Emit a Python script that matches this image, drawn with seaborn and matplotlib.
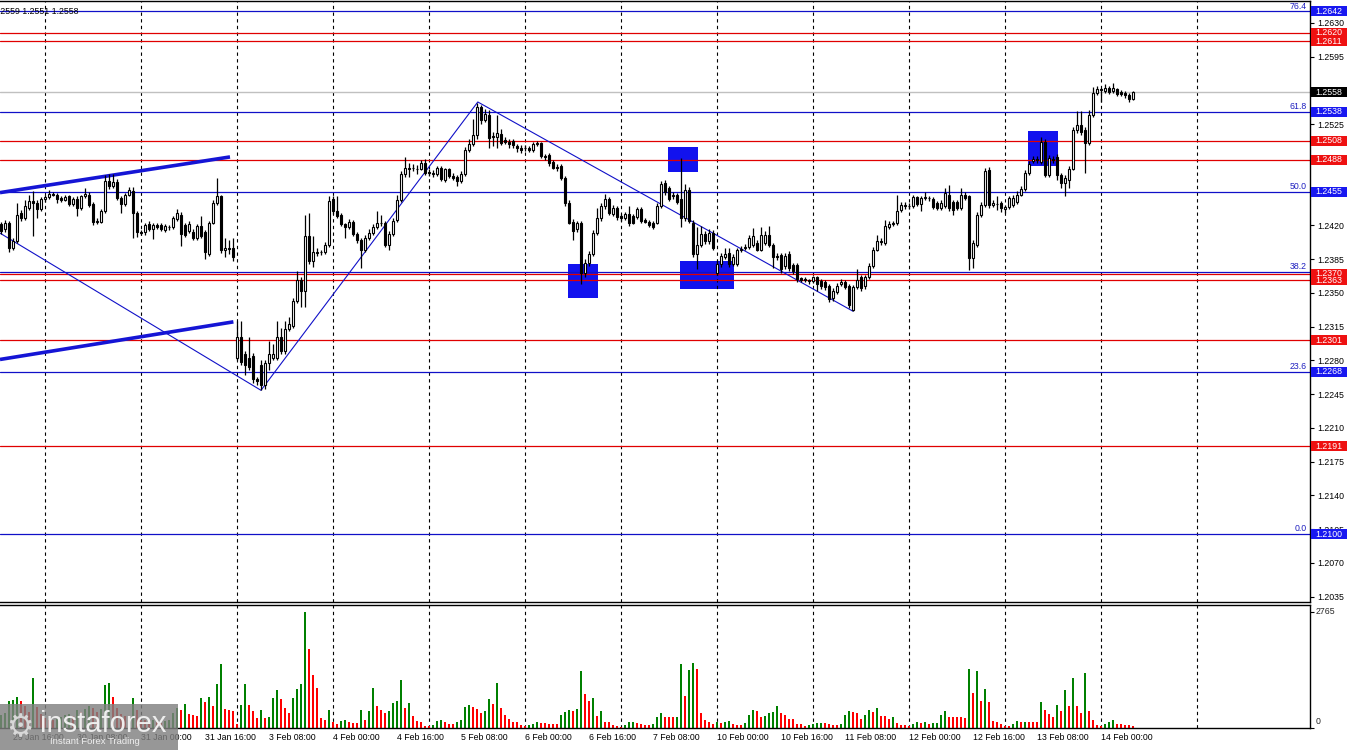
import numpy as np
import pandas as pd
import matplotlib
matplotlib.use("Agg")
import matplotlib.pyplot as plt
import matplotlib.transforms as mtransforms
from matplotlib.patches import Rectangle
import seaborn as sns

# hourly candles, one list per trading day: (open, high, low, close)
day_29jan = [
    (1.2421, 1.2424, 1.2411, 1.2414), (1.2416, 1.2426, 1.2413, 1.2423), (1.2423, 1.2425, 1.2392, 1.2397),
    (1.2397, 1.2407, 1.2395, 1.2404), (1.2404, 1.2443, 1.2402, 1.2431), (1.2433, 1.2436, 1.2425, 1.2428),
    (1.2428, 1.2446, 1.2426, 1.2440), (1.2438, 1.2452, 1.2436, 1.2445), (1.2445, 1.2456, 1.2409, 1.2443),
    (1.2443, 1.2446, 1.2428, 1.2437), (1.2437, 1.2449, 1.2435, 1.2447)]
day_30jan = [
    (1.2447, 1.2452, 1.2444, 1.2449), (1.2449, 1.2457, 1.2447, 1.2453), (1.2453, 1.2455, 1.2450, 1.2452),
    (1.2452, 1.2454, 1.2443, 1.2447), (1.2448, 1.2450, 1.2444, 1.2446), (1.2446, 1.2452, 1.2445, 1.2449),
    (1.2450, 1.2452, 1.2440, 1.2442), (1.2442, 1.2449, 1.2440, 1.2447), (1.2447, 1.2450, 1.2430, 1.2438),
    (1.2438, 1.2452, 1.2436, 1.2450), (1.2450, 1.2459, 1.2448, 1.2453), (1.2452, 1.2455, 1.2439, 1.2441),
    (1.2442, 1.2444, 1.2420, 1.2424), (1.2424, 1.2428, 1.2421, 1.2425), (1.2424, 1.2437, 1.2422, 1.2435),
    (1.2435, 1.2472, 1.2433, 1.2466), (1.2466, 1.2473, 1.2458, 1.2461), (1.2461, 1.2473, 1.2459, 1.2465),
    (1.2465, 1.2468, 1.2446, 1.2448), (1.2448, 1.2451, 1.2433, 1.2442), (1.2442, 1.2454, 1.2440, 1.2452),
    (1.2452, 1.2460, 1.2450, 1.2457), (1.2456, 1.2460, 1.2407, 1.2433), (1.2433, 1.2435, 1.2408, 1.2413)]
day_31jan = [
    (1.2413, 1.2415, 1.2410, 1.2412), (1.2413, 1.2423, 1.2410, 1.2420), (1.2421, 1.2425, 1.2414, 1.2416),
    (1.2416, 1.2423, 1.2406, 1.2420), (1.2420, 1.2423, 1.2416, 1.2418), (1.2420, 1.2422, 1.2414, 1.2416),
    (1.2415, 1.2421, 1.2413, 1.2419), (1.2418, 1.2420, 1.2415, 1.2418), (1.2418, 1.2430, 1.2416, 1.2428),
    (1.2427, 1.2437, 1.2425, 1.2433), (1.2431, 1.2434, 1.2399, 1.2411), (1.2420, 1.2422, 1.2408, 1.2410),
    (1.2414, 1.2425, 1.2412, 1.2421), (1.2413, 1.2416, 1.2405, 1.2407), (1.2407, 1.2421, 1.2405, 1.2419),
    (1.2419, 1.2430, 1.2407, 1.2409), (1.2413, 1.2415, 1.2385, 1.2392), (1.2390, 1.2425, 1.2388, 1.2423),
    (1.2423, 1.2446, 1.2421, 1.2443), (1.2443, 1.2469, 1.2441, 1.2450), (1.2450, 1.2452, 1.2391, 1.2394),
    (1.2394, 1.2407, 1.2387, 1.2397), (1.2397, 1.2405, 1.2390, 1.2396), (1.2397, 1.2407, 1.2383, 1.2387)]
day_3feb = [
    (1.2283, 1.2321, 1.2280, 1.2304), (1.2304, 1.2321, 1.2275, 1.2278), (1.2287, 1.2290, 1.2265, 1.2275),
    (1.2283, 1.2304, 1.2270, 1.2273), (1.2285, 1.2288, 1.2257, 1.2261), (1.2261, 1.2263, 1.2254, 1.2259),
    (1.2275, 1.2280, 1.2249, 1.2254), (1.2254, 1.2280, 1.2250, 1.2277), (1.2277, 1.2300, 1.2270, 1.2287),
    (1.2283, 1.2297, 1.2280, 1.2287), (1.2283, 1.2321, 1.2280, 1.2304), (1.2304, 1.2314, 1.2287, 1.2290),
    (1.2290, 1.2321, 1.2287, 1.2313), (1.2313, 1.2325, 1.2310, 1.2318), (1.2316, 1.2345, 1.2314, 1.2342),
    (1.2342, 1.2373, 1.2340, 1.2363), (1.2363, 1.2366, 1.2335, 1.2352), (1.2352, 1.2431, 1.2335, 1.2409),
    (1.2409, 1.2433, 1.2380, 1.2383), (1.2383, 1.2409, 1.2377, 1.2392), (1.2392, 1.2397, 1.2388, 1.2391),
    (1.2392, 1.2395, 1.2389, 1.2392), (1.2392, 1.2403, 1.2390, 1.2400), (1.2400, 1.2450, 1.2398, 1.2445)]
day_4feb = [
    (1.2447, 1.2450, 1.2432, 1.2435), (1.2435, 1.2450, 1.2428, 1.2430), (1.2431, 1.2433, 1.2419, 1.2421),
    (1.2421, 1.2423, 1.2407, 1.2418), (1.2418, 1.2427, 1.2416, 1.2424), (1.2424, 1.2426, 1.2409, 1.2411),
    (1.2411, 1.2413, 1.2402, 1.2405), (1.2405, 1.2407, 1.2376, 1.2395), (1.2395, 1.2410, 1.2392, 1.2407),
    (1.2407, 1.2416, 1.2405, 1.2412), (1.2412, 1.2421, 1.2410, 1.2418), (1.2418, 1.2435, 1.2416, 1.2423),
    (1.2423, 1.2431, 1.2419, 1.2423), (1.2423, 1.2425, 1.2398, 1.2400), (1.2400, 1.2414, 1.2395, 1.2411),
    (1.2411, 1.2428, 1.2409, 1.2425), (1.2426, 1.2452, 1.2424, 1.2446), (1.2446, 1.2476, 1.2444, 1.2473),
    (1.2473, 1.2491, 1.2470, 1.2480), (1.2480, 1.2485, 1.2470, 1.2479), (1.2480, 1.2484, 1.2476, 1.2480),
    (1.2479, 1.2483, 1.2473, 1.2478), (1.2479, 1.2488, 1.2477, 1.2485), (1.2485, 1.2489, 1.2472, 1.2474)]
day_5feb = [
    (1.2475, 1.2478, 1.2471, 1.2474), (1.2474, 1.2477, 1.2470, 1.2473), (1.2473, 1.2482, 1.2471, 1.2480),
    (1.2480, 1.2482, 1.2466, 1.2468), (1.2467, 1.2480, 1.2465, 1.2478), (1.2478, 1.2480, 1.2469, 1.2471),
    (1.2471, 1.2474, 1.2467, 1.2469), (1.2470, 1.2472, 1.2461, 1.2466), (1.2466, 1.2476, 1.2464, 1.2473),
    (1.2473, 1.2501, 1.2471, 1.2498), (1.2498, 1.2510, 1.2496, 1.2504), (1.2504, 1.2530, 1.2502, 1.2514),
    (1.2514, 1.2547, 1.2510, 1.2543), (1.2543, 1.2545, 1.2525, 1.2529), (1.2529, 1.2541, 1.2527, 1.2536),
    (1.2535, 1.2540, 1.2500, 1.2511), (1.2513, 1.2517, 1.2502, 1.2512), (1.2512, 1.2535, 1.2500, 1.2516),
    (1.2515, 1.2520, 1.2503, 1.2505), (1.2509, 1.2512, 1.2504, 1.2507), (1.2507, 1.2510, 1.2500, 1.2504),
    (1.2508, 1.2510, 1.2500, 1.2503), (1.2502, 1.2504, 1.2496, 1.2500), (1.2500, 1.2503, 1.2495, 1.2498)]
day_6feb = [
    (1.2500, 1.2503, 1.2497, 1.2500), (1.2500, 1.2502, 1.2496, 1.2498), (1.2498, 1.2507, 1.2496, 1.2504),
    (1.2504, 1.2508, 1.2502, 1.2505), (1.2505, 1.2507, 1.2490, 1.2492), (1.2492, 1.2494, 1.2488, 1.2491),
    (1.2493, 1.2495, 1.2482, 1.2485), (1.2486, 1.2488, 1.2478, 1.2480), (1.2481, 1.2484, 1.2476, 1.2480),
    (1.2482, 1.2484, 1.2467, 1.2469), (1.2469, 1.2471, 1.2440, 1.2443), (1.2443, 1.2446, 1.2421, 1.2423),
    (1.2424, 1.2427, 1.2405, 1.2414), (1.2416, 1.2425, 1.2413, 1.2422), (1.2422, 1.2425, 1.2359, 1.2371),
    (1.2371, 1.2385, 1.2366, 1.2381), (1.2381, 1.2393, 1.2378, 1.2390), (1.2390, 1.2415, 1.2388, 1.2412),
    (1.2412, 1.2438, 1.2410, 1.2428), (1.2428, 1.2443, 1.2425, 1.2440), (1.2440, 1.2453, 1.2437, 1.2447),
    (1.2447, 1.2449, 1.2431, 1.2433), (1.2432, 1.2441, 1.2430, 1.2438), (1.2438, 1.2440, 1.2426, 1.2429)]
day_7feb = [
    (1.2430, 1.2432, 1.2425, 1.2428), (1.2428, 1.2434, 1.2426, 1.2432), (1.2432, 1.2440, 1.2419, 1.2422),
    (1.2430, 1.2432, 1.2421, 1.2423), (1.2429, 1.2439, 1.2427, 1.2437), (1.2437, 1.2439, 1.2423, 1.2425),
    (1.2426, 1.2428, 1.2422, 1.2424), (1.2424, 1.2426, 1.2418, 1.2420), (1.2423, 1.2425, 1.2416, 1.2418),
    (1.2423, 1.2443, 1.2421, 1.2440), (1.2440, 1.2466, 1.2438, 1.2463), (1.2464, 1.2467, 1.2452, 1.2455),
    (1.2459, 1.2461, 1.2445, 1.2447), (1.2450, 1.2455, 1.2447, 1.2452), (1.2452, 1.2454, 1.2442, 1.2444),
    (1.2447, 1.2490, 1.2418, 1.2428), (1.2428, 1.2463, 1.2425, 1.2457), (1.2457, 1.2460, 1.2422, 1.2425),
    (1.2423, 1.2426, 1.2387, 1.2390), (1.2390, 1.2418, 1.2375, 1.2400), (1.2400, 1.2419, 1.2398, 1.2411),
    (1.2411, 1.2414, 1.2401, 1.2404), (1.2404, 1.2416, 1.2401, 1.2412), (1.2412, 1.2415, 1.2395, 1.2397)]
day_10feb = [
    (1.2371, 1.2384, 1.2369, 1.2380), (1.2380, 1.2391, 1.2377, 1.2388), (1.2387, 1.2397, 1.2385, 1.2390),
    (1.2391, 1.2397, 1.2377, 1.2380), (1.2380, 1.2390, 1.2378, 1.2387), (1.2380, 1.2397, 1.2378, 1.2394),
    (1.2394, 1.2399, 1.2392, 1.2396), (1.2397, 1.2401, 1.2395, 1.2398), (1.2398, 1.2410, 1.2396, 1.2407),
    (1.2400, 1.2417, 1.2398, 1.2409), (1.2402, 1.2405, 1.2393, 1.2395), (1.2395, 1.2418, 1.2393, 1.2410),
    (1.2402, 1.2414, 1.2400, 1.2410), (1.2410, 1.2419, 1.2398, 1.2400), (1.2400, 1.2402, 1.2376, 1.2387),
    (1.2388, 1.2391, 1.2384, 1.2387), (1.2389, 1.2391, 1.2371, 1.2375), (1.2378, 1.2391, 1.2375, 1.2388),
    (1.2390, 1.2393, 1.2373, 1.2376), (1.2379, 1.2381, 1.2370, 1.2373), (1.2379, 1.2381, 1.2361, 1.2364),
    (1.2365, 1.2367, 1.2361, 1.2363), (1.2364, 1.2367, 1.2361, 1.2363), (1.2363, 1.2364, 1.2359, 1.2362)]
day_11feb = [
    (1.2362, 1.2368, 1.2360, 1.2366), (1.2366, 1.2368, 1.2352, 1.2359), (1.2362, 1.2364, 1.2354, 1.2357),
    (1.2361, 1.2363, 1.2353, 1.2356), (1.2357, 1.2359, 1.2341, 1.2344), (1.2345, 1.2355, 1.2342, 1.2352),
    (1.2351, 1.2360, 1.2349, 1.2357), (1.2359, 1.2364, 1.2357, 1.2361), (1.2361, 1.2363, 1.2354, 1.2356),
    (1.2357, 1.2359, 1.2334, 1.2337), (1.2332, 1.2358, 1.2331, 1.2356), (1.2356, 1.2375, 1.2354, 1.2363),
    (1.2366, 1.2369, 1.2352, 1.2355), (1.2357, 1.2369, 1.2354, 1.2366), (1.2366, 1.2381, 1.2364, 1.2378),
    (1.2378, 1.2398, 1.2376, 1.2395), (1.2395, 1.2410, 1.2393, 1.2404), (1.2404, 1.2407, 1.2400, 1.2403),
    (1.2402, 1.2426, 1.2400, 1.2419), (1.2418, 1.2425, 1.2416, 1.2421), (1.2421, 1.2425, 1.2419, 1.2422),
    (1.2422, 1.2452, 1.2420, 1.2435), (1.2436, 1.2444, 1.2434, 1.2441), (1.2440, 1.2444, 1.2437, 1.2441)]
day_12feb = [
    (1.2440, 1.2443, 1.2437, 1.2440), (1.2440, 1.2452, 1.2438, 1.2449), (1.2449, 1.2451, 1.2440, 1.2442),
    (1.2442, 1.2450, 1.2435, 1.2448), (1.2448, 1.2455, 1.2446, 1.2449), (1.2448, 1.2450, 1.2445, 1.2448),
    (1.2447, 1.2449, 1.2437, 1.2439), (1.2443, 1.2445, 1.2436, 1.2438), (1.2438, 1.2446, 1.2436, 1.2443),
    (1.2440, 1.2459, 1.2438, 1.2454), (1.2452, 1.2462, 1.2435, 1.2438), (1.2444, 1.2446, 1.2431, 1.2436),
    (1.2444, 1.2446, 1.2436, 1.2438), (1.2438, 1.2459, 1.2436, 1.2452), (1.2452, 1.2455, 1.2446, 1.2448),
    (1.2450, 1.2452, 1.2374, 1.2386), (1.2386, 1.2405, 1.2376, 1.2402), (1.2400, 1.2434, 1.2398, 1.2431),
    (1.2431, 1.2444, 1.2429, 1.2441), (1.2441, 1.2480, 1.2439, 1.2476), (1.2477, 1.2481, 1.2438, 1.2441),
    (1.2441, 1.2446, 1.2439, 1.2443), (1.2442, 1.2450, 1.2436, 1.2442), (1.2443, 1.2445, 1.2434, 1.2438)]
day_13feb = [
    (1.2437, 1.2441, 1.2433, 1.2439), (1.2439, 1.2451, 1.2437, 1.2448), (1.2441, 1.2452, 1.2439, 1.2448),
    (1.2444, 1.2456, 1.2442, 1.2452), (1.2452, 1.2461, 1.2450, 1.2458), (1.2458, 1.2477, 1.2456, 1.2474),
    (1.2474, 1.2487, 1.2472, 1.2484), (1.2487, 1.2492, 1.2485, 1.2489), (1.2489, 1.2492, 1.2485, 1.2488),
    (1.2486, 1.2512, 1.2484, 1.2507), (1.2507, 1.2510, 1.2470, 1.2472), (1.2472, 1.2493, 1.2470, 1.2490),
    (1.2489, 1.2492, 1.2485, 1.2488), (1.2491, 1.2494, 1.2467, 1.2472), (1.2472, 1.2474, 1.2459, 1.2464),
    (1.2464, 1.2472, 1.2450, 1.2469), (1.2467, 1.2482, 1.2459, 1.2479), (1.2479, 1.2522, 1.2477, 1.2519),
    (1.2519, 1.2539, 1.2516, 1.2524), (1.2524, 1.2539, 1.2514, 1.2517), (1.2519, 1.2522, 1.2474, 1.2505),
    (1.2505, 1.2540, 1.2503, 1.2534), (1.2534, 1.2564, 1.2532, 1.2557), (1.2557, 1.2565, 1.2555, 1.2561)]
day_14feb = [
    (1.2561, 1.2563, 1.2548, 1.2560), (1.2559, 1.2567, 1.2557, 1.2562), (1.2562, 1.2565, 1.2556, 1.2558),
    (1.2559, 1.2568, 1.2557, 1.2562), (1.2561, 1.2563, 1.2554, 1.2556), (1.2558, 1.2560, 1.2554, 1.2556),
    (1.2557, 1.2559, 1.2552, 1.2555), (1.2555, 1.2557, 1.2548, 1.2551), (1.2551, 1.2559, 1.2550, 1.2558)]

# tick volumes per hour
vol_29jan = [300, 350, 652, 667, 730, 652, 526, 380, 1201, 510, 330]
vol_30jan = [250, 200, 180, 220, 260, 300, 340, 280, 420, 380, 450, 526,
             470, 380, 450, 1020, 1083, 730, 471, 330, 280, 240, 706, 420]
vol_31jan = [200, 180, 160, 190, 150, 130, 170, 200, 350, 471, 432, 573,
             338, 314, 275, 714, 628, 738, 526, 1044, 1515, 455, 432, 408]
vol_3feb = [102, 550, 1044, 550, 408, 228, 432, 228, 251, 714, 903, 683,
            471, 369, 714, 918, 1044, 2765, 1884, 1256, 942, 228, 181, 432]
vol_4feb = [133, 102, 173, 196, 133, 126, 118, 432, 181, 408, 950, 526,
            432, 353, 408, 604, 652, 1138, 487, 589, 290, 173, 141, 39]
vol_5feb = [39, 79, 157, 196, 141, 102, 102, 133, 181, 510, 550, 495,
            455, 369, 416, 691, 573, 1075, 487, 314, 220, 149, 149, 63]
vol_6feb = [39, 79, 102, 141, 126, 110, 102, 102, 102, 314, 377, 432,
            416, 463, 1358, 809, 652, 722, 290, 408, 149, 133, 79, 39]
vol_7feb = [24, 79, 133, 149, 118, 86, 79, 79, 102, 259, 369, 267,
            251, 251, 267, 1515, 761, 1374, 1539, 1397, 353, 196, 149, 102]
vol_10feb = [133, 118, 149, 173, 102, 79, 79, 118, 306, 432, 408, 259,
             290, 353, 393, 526, 353, 306, 220, 220, 102, 102, 55, 71]
vol_11feb = [102, 110, 118, 118, 102, 79, 79, 102, 314, 416, 385, 353,
             220, 314, 432, 377, 479, 290, 275, 212, 267, 118, 79, 63]
vol_12feb = [55, 102, 141, 118, 149, 102, 110, 118, 314, 416, 267, 267,
             251, 251, 228, 1397, 824, 1350, 644, 926, 620, 165, 133, 102]
vol_13feb = [55, 39, 102, 165, 133, 141, 141, 141, 141, 620, 432, 338,
             259, 550, 408, 903, 526, 1185, 526, 353, 1303, 408, 196, 79]
vol_14feb = [39, 102, 141, 196, 102, 102, 79, 71, 55]

# horizontal levels
red_levels = [1.2620, 1.2611, 1.2508, 1.2488, 1.2370, 1.2363, 1.2301, 1.2191]
fib_levels = [1.2642, 1.2538, 1.2455, 1.2372, 1.2268, 1.2100]
fib_names = ["76.4", "61.8", "50.0", "38.2", "23.6", "0.0"]
fib_boxes = [1.2642, 1.2538, 1.2455, 1.2268, 1.2100]
bid_price = 1.2558
price_ticks = [1.2035, 1.2070, 1.2105, 1.2140, 1.2175, 1.2210, 1.2245, 1.2280, 1.2315,
               1.2350, 1.2385, 1.2420, 1.2455, 1.2490, 1.2525, 1.2560, 1.2595, 1.2630]

# drawn objects (candle index, price)
zigzag_idx = [-0.25, 65, 119.2, 213]
zigzag_price = [1.2412, 1.2249, 1.2548, 1.2331]
channel_upper = [(-0.25, 1.2454), (57.25, 1.2491)]
channel_lower = [(-0.25, 1.2281), (58.1, 1.2320)]
zone_boxes = [(142, 149, 1.2345, 1.2380), (167, 174, 1.2475, 1.2501),
              (170, 183, 1.2354, 1.2383), (257, 264, 1.2482, 1.2518)]

day_starts = [11, 35, 59, 83, 107, 131, 155, 179, 203, 227, 251, 275, 299]
time_idx = [-13, 3, 19, 35, 51, 67, 83, 99, 115, 131, 147, 163, 179, 195, 211, 227, 243, 259, 275]
time_labels = ["29 Jan 00:00", "29 Jan 16:00", "30 Jan 08:00", "31 Jan 00:00", "31 Jan 16:00",
               "3 Feb 08:00", "4 Feb 00:00", "4 Feb 16:00", "5 Feb 08:00", "6 Feb 00:00",
               "6 Feb 16:00", "7 Feb 08:00", "10 Feb 00:00", "10 Feb 16:00", "11 Feb 08:00",
               "12 Feb 00:00", "12 Feb 16:00", "13 Feb 08:00", "14 Feb 00:00"]

days = [day_29jan, day_30jan, day_31jan, day_3feb, day_4feb, day_5feb, day_6feb,
        day_7feb, day_10feb, day_11feb, day_12feb, day_13feb, day_14feb]
vols = [vol_29jan, vol_30jan, vol_31jan, vol_3feb, vol_4feb, vol_5feb, vol_6feb,
        vol_7feb, vol_10feb, vol_11feb, vol_12feb, vol_13feb, vol_14feb]
rows = [r for d in days for r in d]
volume = [v for d in vols for v in d]
n = min(len(rows), len(volume))
df = pd.DataFrame(rows[:n], columns=["open", "high", "low", "close"])
df["volume"] = volume[:n]
df["i"] = np.arange(n)
df["dir"] = np.where(df["volume"].diff().fillna(1) > 0, "up", "down")

sns.set_style("white")
plt.rcParams["font.family"] = ["Liberation Sans", "DejaVu Sans"]
FS = 6.3

W, H = 1350, 750
fig = plt.figure(figsize=(W / 100, H / 100), dpi=100)
ax = fig.add_axes([0, 148 / H, 1310 / W, 601 / H])
axv = fig.add_axes([0, 22 / H, 1310 / W, 123 / H])

XMIN, XMAX = -0.25, 327.25
YMIN, YMAX = 1.20295, 1.26527

# zones behind everything
for x0, x1, p0, p1 in zone_boxes:
    ax.add_patch(Rectangle((x0 - 0.3, p0), x1 - x0 + 0.6, p1 - p0, color="#1212ee", lw=0, zorder=1))

for d in day_starts:
    ax.axvline(d, color="black", lw=0.8, ls=(0, (3, 3)), zorder=1.5)
    axv.axvline(d, color="black", lw=0.8, ls=(0, (3, 3)), zorder=0.5)

ax.axhline(bid_price, color="#c0c0c0", lw=1, zorder=2)
for p in fib_levels:
    ax.axhline(p, color="#1010c8", lw=0.9, zorder=2)
for p in red_levels:
    ax.axhline(p, color="#e00000", lw=0.9, zorder=2)

# trend lines
ax.plot(zigzag_idx, zigzag_price, color="#1010c8", lw=0.8, zorder=2.2)
for seg in (channel_upper, channel_lower):
    ax.plot([seg[0][0], seg[1][0]], [seg[0][1], seg[1][1]], color="#1515d5", lw=2.6,
            solid_capstyle="butt", zorder=2.2)

# candles
up = df["close"] >= df["open"]
ax.vlines(df["i"], df["low"], df["high"], color="black", lw=0.9, zorder=3)
ax.bar(df["i"][up], (df["close"] - df["open"])[up], bottom=df["open"][up], width=0.62,
       color="white", edgecolor="black", lw=0.8, zorder=4)
ax.bar(df["i"][~up], (df["close"] - df["open"])[~up], bottom=df["open"][~up], width=0.62,
       color="black", edgecolor="black", lw=0.8, zorder=4)

ax.set_xlim(XMIN, XMAX)
ax.set_ylim(YMIN, YMAX)
ax.set_xticks([])
ax.yaxis.tick_right()
ax.set_yticks(price_ticks)
ax.set_yticklabels([f"{t:.4f}" for t in price_ticks])
ax.tick_params(axis="y", labelsize=FS, length=3, width=0.8, pad=2, colors="black", direction="out")
for s in ["top", "right", "bottom"]:
    ax.spines[s].set_visible(True)
    ax.spines[s].set_color("black")
    ax.spines[s].set_linewidth(1)
ax.spines["left"].set_visible(False)

# level labels on the price scale
trans = mtransforms.blended_transform_factory(ax.transAxes, ax.transData)
bh = 10 / (601 / (YMAX - YMIN))


def price_box(p, color):
    ax.add_patch(Rectangle((1311 / 1310, p - bh / 2), 36 / 1310, bh, transform=trans,
                           color=color, lw=0, clip_on=False, zorder=6))
    ax.text(1315 / 1310, p, f"{p:.4f}", transform=trans, ha="left", va="center",
            fontsize=FS, color="white", clip_on=False, zorder=7)


for p in fib_boxes:
    price_box(p, "#1818f0")
for p in red_levels:
    price_box(p, "#ee1111")
price_box(bid_price, "black")
for p, name in zip(fib_levels, fib_names):
    ax.text(1307 / 1310, p + 0.00008, name, transform=trans, ha="right", va="bottom",
            fontsize=FS, color="#2020c0", zorder=5)

ax.text(-7 / 1310, 1 - 10 / 601, "1.2559 1.2551 1.2558", transform=ax.transAxes,
        ha="left", va="center", fontsize=FS, color="black", clip_on=False, zorder=8)

# volume panel
sns.barplot(data=df, x="i", y="volume", hue="dir", palette={"up": "#008000", "down": "#ff0000"},
            native_scale=True, width=0.72, dodge=False, errorbar=None, saturation=1,
            legend=False, ax=axv, zorder=2)
# keep every bar three pixels wide, centred on its candle
for bar in axv.patches:
    c = bar.get_x() + bar.get_width() / 2
    bar.set_width(0.72)
    bar.set_x(c - 0.36)
    bar.set_linewidth(0)

vmax = max(volume)
axv.set_xlim(XMIN, XMAX)
axv.set_ylim(0, vmax * 123 / 116)
axv.set_xlabel("")
axv.set_ylabel("")
axv.set_xticks([])
axv.yaxis.tick_right()
axv.set_yticks([0, vmax])
axv.set_yticklabels([])
axv.tick_params(axis="y", length=3, width=0.8, colors="black")
for s in ["top", "right", "bottom"]:
    axv.spines[s].set_visible(True)
    axv.spines[s].set_color("black")
    axv.spines[s].set_linewidth(1)
axv.spines["left"].set_visible(False)
axv.text(1316 / 1310, vmax, str(vmax), transform=axv.get_yaxis_transform(), ha="left",
         va="center", fontsize=FS, clip_on=False)
axv.text(1316 / 1310, 6 / 123, "0", transform=axv.transAxes, ha="left",
         va="center", fontsize=FS, clip_on=False)

ttrans = mtransforms.blended_transform_factory(axv.transData, axv.transAxes)
for xi, lab in zip(time_idx, time_labels):
    axv.text(xi, -10 / 123, lab, transform=ttrans, ha="left", va="center",
             fontsize=FS, color="black", clip_on=False)

# watermark
fig.patches.append(Rectangle((0, 0), 178 / W, 46 / H, transform=fig.transFigure,
                             color="#808080", alpha=0.82, lw=0, zorder=10))
fig.text(6 / W, 22 / H, "\u2699", fontsize=22, color="#d8d8d8", ha="left", va="center",
         family="DejaVu Sans", zorder=11)
fig.text(40 / W, 26 / H, "instaforex", fontsize=21, color="#eeeeee", ha="left", va="center",
         zorder=11)
fig.text(50 / W, 8 / H, "Instant Forex Trading", fontsize=6.8, color="#eeeeee", ha="left",
         va="center", zorder=11)

fig.savefig("out.png", dpi=100, facecolor="white")
